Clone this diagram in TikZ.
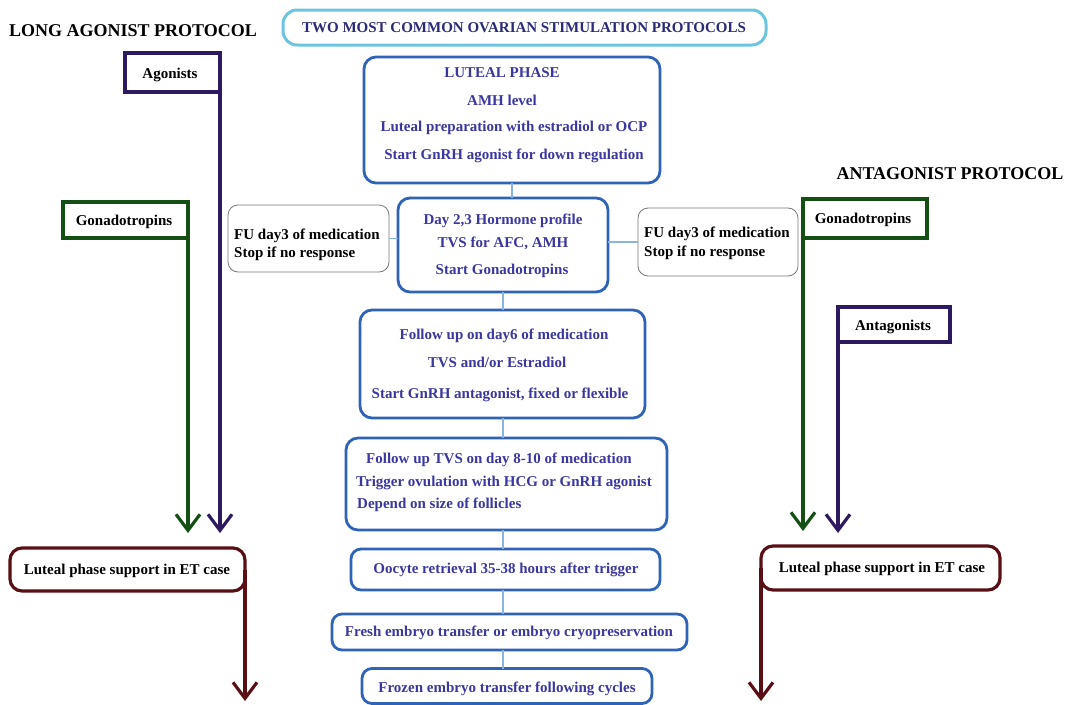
\documentclass[tikz,border=0pt]{standalone}
\usepackage{fontspec}
\setmainfont{Liberation Serif}
\usetikzlibrary{arrows.meta}
\definecolor{boxblue}{RGB}{46,99,184}
\definecolor{tblue}{RGB}{58,55,160}
\definecolor{titleblue}{RGB}{42,42,120}
\definecolor{cyanb}{RGB}{108,197,224}
\definecolor{linkblue}{RGB}{138,180,224}
\definecolor{agpurple}{RGB}{45,25,95}
\definecolor{gongreen}{RGB}{20,80,20}
\definecolor{maroon}{RGB}{90,15,20}
\definecolor{fugray}{RGB}{120,120,120}
\tikzset{
  bf/.style={font=\bfseries\fontsize{15}{18}\selectfont, text height=10pt, text depth=0pt, inner sep=0pt},
  ctext/.style={bf, text=tblue},
  btext/.style={bf, text=black},
  cbox/.style={draw=boxblue, line width=2.8pt, rounded corners=12pt, inner sep=0pt, outer sep=0pt},
  fubox/.style={draw=fugray, line width=0.8pt, rounded corners=10pt, inner sep=0pt, outer sep=0pt},
  sidebox/.style={line width=3.2pt, inner sep=0pt, outer sep=0pt},
  link/.style={draw=linkblue, line width=1.2pt},
  barb/.style={-{Straight Barb[length=16pt,width=24pt]}, line width=3.2pt},
}
\begin{document}
\begin{tikzpicture}[x=1pt,y=-1pt]
\useasboundingbox[fill=white] (0,0) rectangle (1070,704);

% titles
\node[bf, font=\bfseries\fontsize{18}{20}\selectfont, text height=12pt] (ltitle) at (133,30) {LONG AGONIST PROTOCOL};
\node[bf, font=\bfseries\fontsize{18}{20}\selectfont, text height=12pt] (rtitle) at (950,173) {ANTAGONIST PROTOCOL};
\node[draw=cyanb, line width=3pt, rounded corners=14pt, minimum width=483pt, minimum height=35pt, inner sep=0pt] (tbox) at (524.5,27.5) {};
\node[bf, text=titleblue] (ttext) at (524,27.5) {TWO MOST COMMON OVARIAN STIMULATION PROTOCOLS};

% central boxes
\node[cbox, minimum width=296pt, minimum height=126pt] (luteal) at (512,120) {};
\node[ctext] (l1) at (502,72.5) {LUTEAL PHASE};
\node[ctext] (l2) at (502,100.5) {AMH level};
\node[ctext] (l3) at (514,126.5) {Luteal preparation with estradiol or OCP};
\node[ctext] (l4) at (514,154.5) {Start GnRH agonist for down regulation};

\node[cbox, minimum width=210pt, minimum height=94pt] (day) at (503,245) {};
\node[ctext] (d1) at (503,219) {Day 2,3 Hormone profile};
\node[ctext] (d2) at (503,242) {TVS for AFC, AMH};
\node[ctext] (d3) at (502,269) {Start Gonadotropins};

\node[fubox, minimum width=161pt, minimum height=67pt] (ful) at (308.5,238.5) {};
\node[btext, anchor=west] (ful1) at (234,234) {FU day3 of medication};
\node[btext, anchor=west] (ful2) at (234,252) {Stop if no response};

\node[fubox, minimum width=160pt, minimum height=68pt] (fur) at (718,242) {};
\node[btext, anchor=west] (fur1) at (644,232) {FU day3 of medication};
\node[btext, anchor=west] (fur2) at (644,251) {Stop if no response};

\node[cbox, minimum width=285pt, minimum height=108pt] (f6) at (502.5,364) {};
\node[ctext] (f61) at (504,334) {Follow up on day6 of medication};
\node[ctext] (f62) at (497,362) {TVS and/or Estradiol};
\node[ctext] (f63) at (500,393) {Start GnRH antagonist, fixed or flexible};

\node[cbox, minimum width=321pt, minimum height=92pt] (tvs) at (506.5,484) {};
\node[ctext, anchor=west] (tv1) at (366,458) {Follow up TVS on day 8-10 of medication};
\node[ctext, anchor=west] (tv2) at (356,481) {Trigger ovulation with HCG or GnRH agonist};
\node[ctext, anchor=west] (tv3) at (357,503) {Depend on size of follicles};

\node[cbox, rounded corners=10pt, minimum width=309pt, minimum height=41pt] (ooc) at (505.5,569.5) {};
\node[ctext] (oo1) at (506,568) {Oocyte retrieval 35-38 hours after trigger};

\node[cbox, rounded corners=10pt, minimum width=355pt, minimum height=36pt] (fresh) at (509.5,632) {};
\node[ctext] (fr1) at (509,631) {Fresh embryo transfer or embryo cryopreservation};

\node[cbox, rounded corners=10pt, minimum width=290pt, minimum height=35pt] (frozen) at (507,686) {};
\node[ctext] (fz1) at (507,687) {Frozen embryo transfer following cycles};

% central connectors
\draw[link] (luteal.south) -- (luteal.south |- day.north);
\draw[link] (day.south) -- (day.south |- f6.north);
\draw[link] (day.south |- f6.south) -- (day.south |- tvs.north);
\draw[link] (day.south |- tvs.south) -- (day.south |- ooc.north);
\draw[link] (day.south |- ooc.south) -- (day.south |- fresh.north);
\draw[link] (day.south |- fresh.south) -- (day.south |- frozen.north);
\draw[link] (ful.east) -- (ful.east -| day.west);
\draw[link] (day.east |- fur.west) -- (fur.west);

% left side
\node[sidebox, draw=agpurple, minimum width=95pt, minimum height=39pt] (agon) at (172.5,72.5) {};
\node[btext] (agt) at (170,73) {Agonists};
\node[sidebox, draw=gongreen, minimum width=125pt, minimum height=36pt] (gonl) at (125.5,220) {};
\node[btext] (gonlt) at (124,220) {Gonadotropins};
\node[sidebox, draw=maroon, rounded corners=12pt, minimum width=235pt, minimum height=43pt] (lsl) at (127.5,569.5) {};
\node[btext] (lslt) at (127,569) {Luteal phase support in ET case};

\coordinate (agend) at (220,533);
\coordinate (gonlend) at (188,533);
\coordinate (lslend) at (245,701);
\draw[barb, agpurple] (agon.south east) -- (agon.south east |- agend);
\draw[barb, gongreen] (gonl.south east) -- (gonl.south east |- gonlend);
\draw[barb, maroon] (lsl.east) -- (lsl.east |- lslend);

% right side
\node[sidebox, draw=gongreen, minimum width=124pt, minimum height=39pt] (gonr) at (865,218.5) {};
\node[btext] (gonrt) at (863,218) {Gonadotropins};
\node[sidebox, draw=agpurple, minimum width=112pt, minimum height=35pt] (antag) at (894,324.5) {};
\node[btext] (antt) at (893,325) {Antagonists};
\node[sidebox, draw=maroon, rounded corners=12pt, minimum width=239pt, minimum height=44pt] (lsr) at (880.5,568) {};
\node[btext] (lsrt) at (882,567) {Luteal phase support in ET case};

\coordinate (gonrend) at (803,531);
\coordinate (antend) at (839,533);
\coordinate (lsrend) at (762,701);
\draw[barb, gongreen] (gonr.south west) -- (gonr.south west |- gonrend);
\draw[barb, agpurple] (antag.south west) -- (antag.south west |- antend);
\draw[barb, maroon] (lsr.west) -- (lsr.west |- lsrend);
\end{tikzpicture}
\end{document}
